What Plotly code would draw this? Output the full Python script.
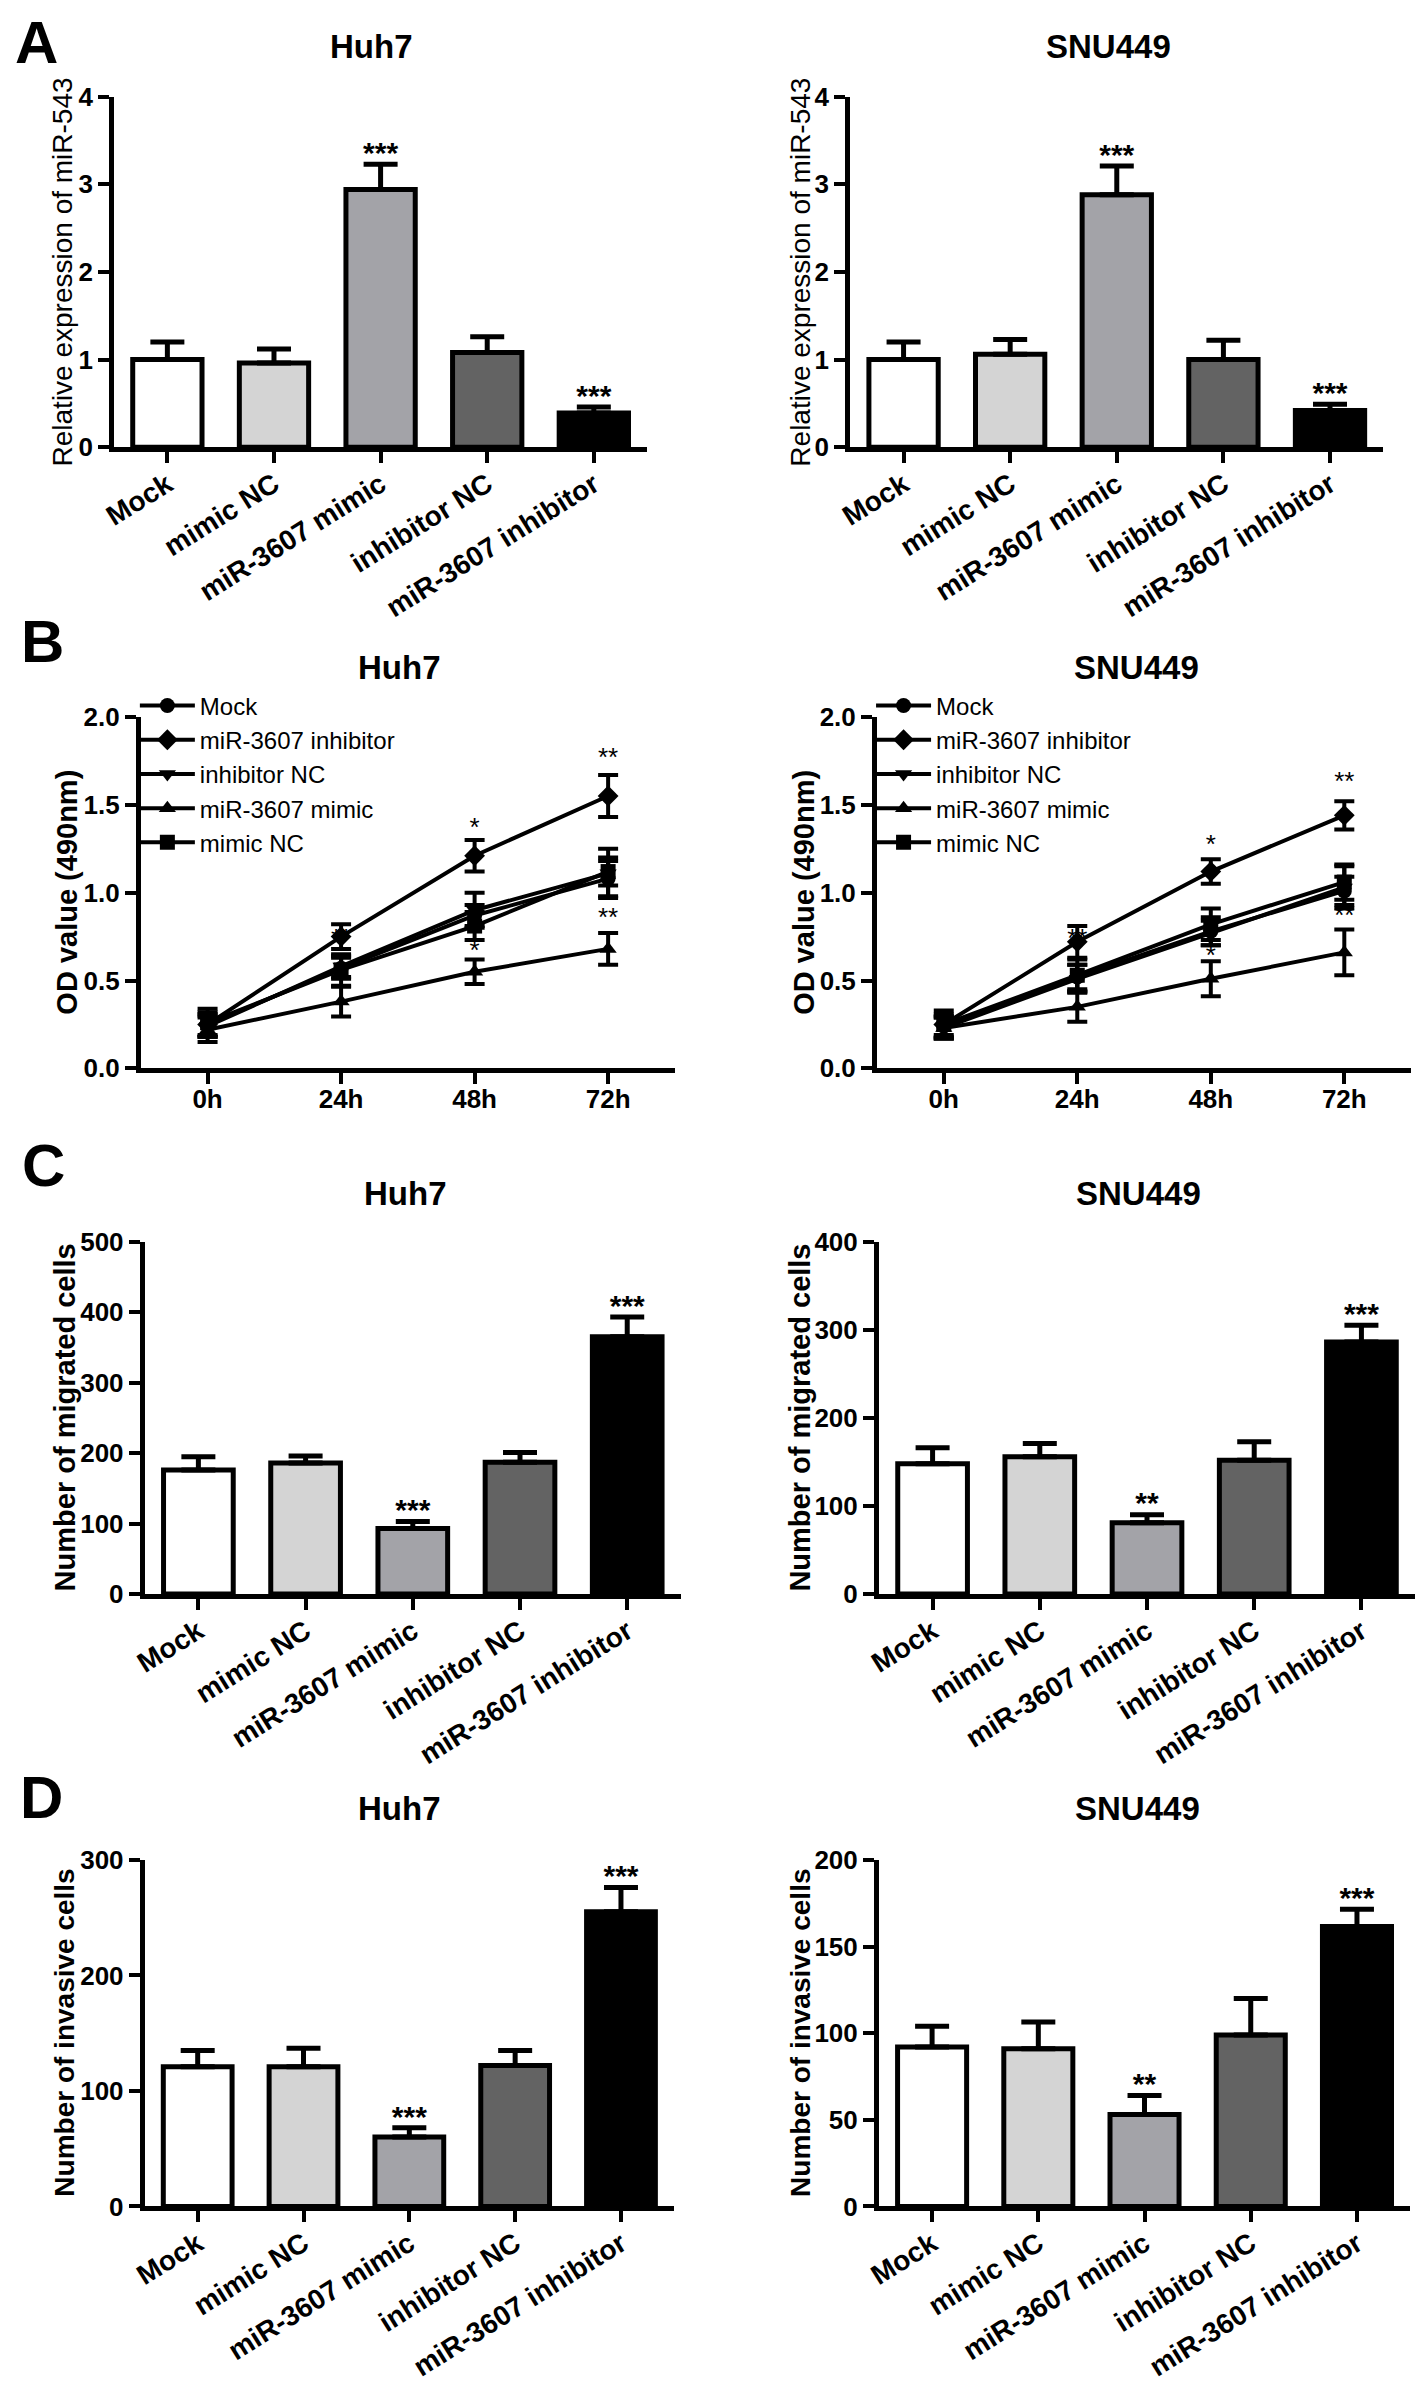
import plotly.graph_objects as go

W, H = 1418, 2382
FONT = "Liberation Sans, Arial, sans-serif"

# ---------------- data ----------------
groups = ["Mock", "mimic NC", "miR-3607 mimic", "inhibitor NC", "miR-3607 inhibitor"]
bar_colors = ["#ffffff", "#d4d4d4", "#a3a3a8", "#636363", "#000000"]

# Panel A: relative expression of miR-543
a_huh7 = [1.00, 0.96, 2.94, 1.08, 0.39]
a_huh7_err = [0.20, 0.16, 0.29, 0.18, 0.07]
a_snu = [1.00, 1.06, 2.88, 1.00, 0.42]
a_snu_err = [0.20, 0.17, 0.33, 0.22, 0.07]
a_huh7_stars = [("miR-3607 mimic", "***"), ("miR-3607 inhibitor", "***")]
a_snu_stars = [("miR-3607 mimic", "***"), ("miR-3607 inhibitor", "***")]

# Panel B: OD value (490nm)
time_labels = ["0h", "24h", "48h", "72h"]
time_idx = [0, 1, 2, 3]
line_series = ["Mock", "miR-3607 inhibitor", "inhibitor NC", "miR-3607 mimic", "mimic NC"]
line_symbols = ["circle", "diamond", "triangle-down", "triangle-up", "square"]

b_huh7 = {
    "Mock": [0.25, 0.57, 0.87, 1.08],
    "miR-3607 inhibitor": [0.25, 0.75, 1.21, 1.55],
    "inhibitor NC": [0.24, 0.58, 0.90, 1.11],
    "miR-3607 mimic": [0.22, 0.38, 0.55, 0.68],
    "mimic NC": [0.26, 0.56, 0.81, 1.12],
}
b_huh7_err = {
    "Mock": [0.07, 0.06, 0.06, 0.10],
    "miR-3607 inhibitor": [0.06, 0.07, 0.09, 0.12],
    "inhibitor NC": [0.06, 0.06, 0.10, 0.14],
    "miR-3607 mimic": [0.07, 0.085, 0.07, 0.09],
    "mimic NC": [0.08, 0.09, 0.08, 0.08],
}
b_snu = {
    "Mock": [0.24, 0.52, 0.78, 1.01],
    "miR-3607 inhibitor": [0.25, 0.72, 1.12, 1.44],
    "inhibitor NC": [0.23, 0.51, 0.77, 1.03],
    "miR-3607 mimic": [0.23, 0.35, 0.51, 0.66],
    "mimic NC": [0.25, 0.53, 0.82, 1.06],
}
b_snu_err = {
    "Mock": [0.06, 0.07, 0.08, 0.08],
    "miR-3607 inhibitor": [0.06, 0.09, 0.07, 0.08],
    "inhibitor NC": [0.06, 0.08, 0.07, 0.12],
    "miR-3607 mimic": [0.06, 0.085, 0.10, 0.13],
    "mimic NC": [0.08, 0.09, 0.09, 0.10],
}
b_huh7_stars = [(1, 0.73, "**"), (2, 1.36, "*"), (2, 0.66, "*"), (3, 1.76, "**"), (3, 0.85, "**")]
b_snu_stars = [(1, 0.73, "**"), (2, 1.26, "*"), (2, 0.63, "*"), (3, 1.62, "**"), (3, 0.86, "**")]

# Panel C: migrated cells
c_huh7 = [176, 186, 93, 187, 365]
c_huh7_err = [19, 10, 10, 14, 28]
c_snu = [148, 156, 81, 152, 286]
c_snu_err = [18, 15, 9, 21, 19]
c_huh7_stars = [("miR-3607 mimic", "***"), ("miR-3607 inhibitor", "***")]
c_snu_stars = [("miR-3607 mimic", "**"), ("miR-3607 inhibitor", "***")]

# Panel D: invasive cells
d_huh7 = [121, 121, 60, 122, 255]
d_huh7_err = [14, 16, 8, 13, 21]
d_snu = [92, 91, 53, 99, 161.5]
d_snu_err = [12, 15.5, 11, 21, 10]
d_huh7_stars = [("miR-3607 mimic", "***"), ("miR-3607 inhibitor", "***")]
d_snu_stars = [("miR-3607 mimic", "**"), ("miR-3607 inhibitor", "***")]

# ---------------- layout helpers ----------------
def dom_x(a, b):
    return [a / W, b / W]

def dom_y(top, bot):
    return [1 - bot / H, 1 - top / H]

# (xpx0, xpx1, ytop, ybot, yrange, dtick, tickformat, kind)
panels = [
    (102, 640, 83, 439, [0, 4], 1, "d", "bar"),
    (845, 1383, 83, 439, [0, 4], 1, "d", "bar"),
    (129, 668, 713, 1070, [0, 2], 0.5, ".1f", "line"),
    (872, 1411, 713, 1070, [0, 2], 0.5, ".1f", "line"),
    (133, 674, 1246, 1604, [0, 500], 100, "d", "bar"),
    (874, 1415, 1246, 1604, [0, 400], 100, "d", "bar"),
    (133, 667, 1874, 2226, [0, 300], 100, "d", "bar"),
    (874, 1410, 1874, 2226, [0, 200], 50, "d", "bar"),
]

fig = go.Figure()
layout = dict(
    width=W, height=H, autosize=False,
    margin=dict(l=0, r=0, t=0, b=0),
    paper_bgcolor="white", plot_bgcolor="white",
    font=dict(family=FONT, color="black"),
    showlegend=True,
)

for i, (x0, x1, yt, yb, yr, dt, fmt, kind) in enumerate(panels, start=1):
    sfx = "" if i == 1 else str(i)
    xa = dict(domain=dom_x(x0, x1), anchor="y" + sfx, showline=True, linewidth=5,
              linecolor="black", ticks="outside", ticklen=11, tickwidth=4,
              tickcolor="black", showgrid=False, zeroline=False, fixedrange=True,
              tickfont=dict(size=28, family=FONT, weight="bold", color="black"))
    if kind == "bar":
        xa.update(type="category", categoryorder="array", categoryarray=groups,
                  range=[-0.5, 4.5], tickangle=-32, ticklabelstandoff=-6)
    else:
        xa.update(tickvals=time_idx, ticktext=time_labels, range=[-0.5, 3.5], tickangle=0,
                  ticklabelstandoff=-8,
                  tickfont=dict(size=26, family=FONT, weight="bold", color="black"))
    ya = dict(domain=dom_y(yt, yb), anchor="x" + sfx, range=yr, dtick=dt, tick0=0,
              tickformat=fmt, showline=True, linewidth=5, linecolor="black",
              ticks="outside", ticklen=11, tickwidth=4, tickcolor="black",
              showgrid=False, zeroline=False, fixedrange=True,
              tickfont=dict(size=26, family=FONT, weight="bold", color="black"))
    layout["xaxis" + sfx] = xa
    layout["yaxis" + sfx] = ya

STAR_GAP_PX = 9  # text anchor above the error-bar cap, in px


def add_bars(vals, errs, stars, n):
    sfx = "" if n == 1 else str(n)
    x0, x1, yt, yb, yr, dt, fmt, kind = panels[n - 1]
    per_px = (yr[1] - yr[0]) / (yb - yt)
    fig.add_trace(go.Bar(
        x=groups, y=vals, width=0.65,
        marker=dict(color=bar_colors, line=dict(color="black", width=5)),
        error_y=dict(type="data", array=errs, arrayminus=[0] * len(errs), symmetric=False,
                     color="black", thickness=5, width=17),
        xaxis="x" + sfx, yaxis="y" + sfx, showlegend=False, hoverinfo="skip"))
    sx, sy, st = [], [], []
    for cat, txt in stars:
        k = groups.index(cat)
        sx.append(cat)
        sy.append(vals[k] + errs[k] + STAR_GAP_PX * per_px)
        st.append(txt)
    fig.add_trace(go.Scatter(
        x=sx, y=sy, text=st,
        mode="text", textposition="middle center", cliponaxis=False,
        textfont=dict(size=30, family=FONT, weight="bold", color="black"),
        xaxis="x" + sfx, yaxis="y" + sfx, showlegend=False, hoverinfo="skip"))


def add_lines(data, errs, stars, n, legend_name):
    sfx = str(n)
    fig.add_trace(go.Scatter(
        x=[s[0] for s in stars], y=[s[1] for s in stars], text=[s[2] for s in stars],
        mode="text", textposition="middle center", cliponaxis=False,
        textfont=dict(size=26, family=FONT, color="black"),
        xaxis="x" + sfx, yaxis="y" + sfx, showlegend=False, hoverinfo="skip"))
    for name, sym in zip(line_series, line_symbols):
        fig.add_trace(go.Scatter(
            x=time_idx, y=data[name], name=name, mode="lines+markers",
            line=dict(color="black", width=4),
            marker=dict(symbol=sym, size=15 if sym != "diamond" else 16, color="black"),
            error_y=dict(type="data", array=errs[name], symmetric=True, color="black",
                         thickness=4, width=10),
            cliponaxis=False, legend=legend_name,
            xaxis="x" + sfx, yaxis="y" + sfx, hoverinfo="skip"))


add_bars(a_huh7, a_huh7_err, a_huh7_stars, 1)
add_bars(a_snu, a_snu_err, a_snu_stars, 2)
add_lines(b_huh7, b_huh7_err, b_huh7_stars, 3, "legend")
add_lines(b_snu, b_snu_err, b_snu_stars, 4, "legend2")
add_bars(c_huh7, c_huh7_err, c_huh7_stars, 5)
add_bars(c_snu, c_snu_err, c_snu_stars, 6)
add_bars(d_huh7, d_huh7_err, d_huh7_stars, 7)
add_bars(d_snu, d_snu_err, d_snu_stars, 8)

leg_common = dict(xanchor="left", yanchor="top", bgcolor="rgba(0,0,0,0)",
                  font=dict(size=24, family=FONT, color="black"), itemwidth=55,
                  traceorder="normal", tracegroupgap=0)
layout["legend"] = dict(x=123 / W, y=1 - 679 / H, **leg_common)
layout["legend2"] = dict(x=866 / W, y=1 - 679 / H, **leg_common)

# ---------------- text: titles, axis titles, panel letters ----------------
ann = []
titles = [
    ("Huh7", 362, 32), ("SNU449", 1106, 32),
    ("Huh7", 390, 663), ("SNU449", 1134, 663),
    ("Huh7", 396, 1197), ("SNU449", 1136, 1197),
    ("Huh7", 390, 1822), ("SNU449", 1135, 1822),
]
for t, x, y in titles:
    ann.append(dict(text=t, x=x / W, y=1 - y / H, xref="paper", yref="paper",
                    xanchor="center", yanchor="middle", showarrow=False,
                    font=dict(size=33, family=FONT, weight="bold", color="black")))

ytitles = [
    ("Relative expression of miR-543", 50, 261, 28, "normal"),
    ("Relative expression of miR-543", 795, 261, 28, "normal"),
    ("OD value (490nm)", 55, 891, 29, "bold"),
    ("OD value (490nm)", 798, 891, 29, "bold"),
    ("Number of migrated cells", 52, 1425, 29, "bold"),
    ("Number of migrated cells", 794, 1425, 29, "bold"),
    ("Number of invasive cells", 52, 2050, 28, "bold"),
    ("Number of invasive cells", 794, 2050, 28, "bold"),
]
for t, x, y, s, wt in ytitles:
    ann.append(dict(text=t, x=x / W, y=1 - y / H, xref="paper", yref="paper",
                    xanchor="center", yanchor="middle", showarrow=False, textangle=-90,
                    font=dict(size=s, family=FONT, weight=wt, color="black")))

letters = [("A", 24, 28), ("B", 30, 636), ("C", 31, 1169), ("D", 29, 1811)]
for t, x, y in letters:
    ann.append(dict(text=t, x=x / W, y=1 - y / H, xref="paper", yref="paper",
                    xanchor="center", yanchor="middle", showarrow=False,
                    font=dict(size=60, family=FONT, weight="bold", color="black")))

layout["annotations"] = ann
fig.update_layout(**layout)

fig.write_html("out.html", config={"displayModeBar": False},
               post_script="document.body.style.margin='0px';")
